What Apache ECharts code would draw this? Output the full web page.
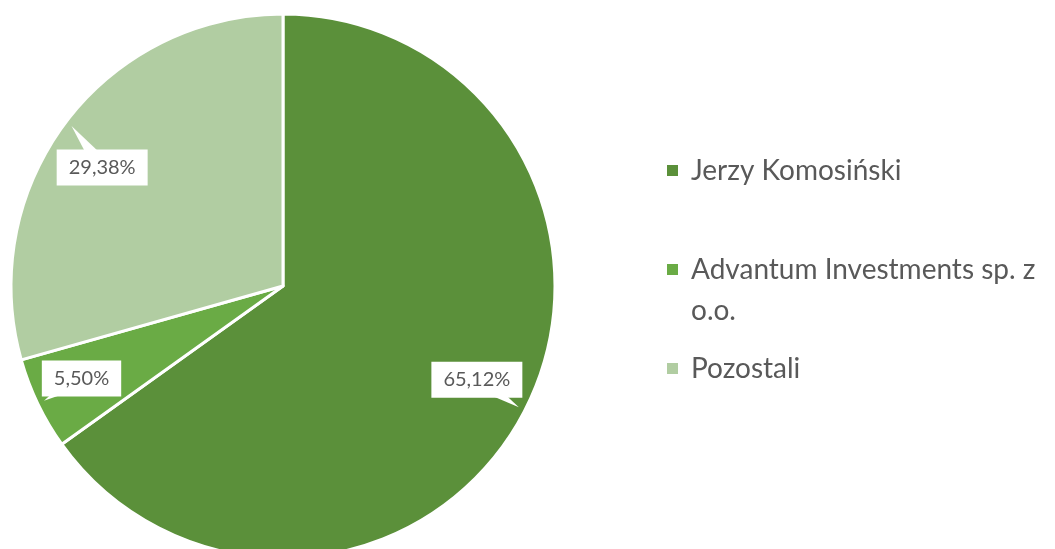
<!DOCTYPE html>
<html>
<head>
<meta charset="utf-8">
<script src="https://cdn.jsdelivr.net/npm/echarts@6/dist/echarts.min.js"></script>
<style>
  html, body { margin: 0; padding: 0; background: #ffffff; }
  #chart { width: 1055px; height: 549px; }
</style>
</head>
<body>
<div id="chart"></div>
<script>
// ---- data ----
const categories = ['Jerzy Komosiński', 'Advantum Investments sp. z o.o.', 'Pozostali'];
const values = [65.12, 5.50, 29.38];

// ---- styles ----
const sliceColors = ['#5b903a', '#6aab45', '#b1cda2'];
const labelOffsets = [[0, -6], [-5, -2], [-7, 13]];
const textColor = '#595959';
const FONT = 'Lato';
const CENTER = [283, 286];
const R = 272;
const LABEL_R0 = 158;

const chart = echarts.init(document.getElementById('chart'), null, { renderer: 'canvas' });

const pieData = categories.map((name, i) => ({
  name: name,
  value: values[i],
  itemStyle: { color: sliceColors[i] }
}));

const total = values.reduce((a, b) => a + b, 0);

function fmt(v) {
  return v.toFixed(2).replace('.', ',') + '%';
}

const option = {
  backgroundColor: '#ffffff',
  animation: false,
  legend: {
    orient: 'vertical',
    left: 660,
    top: 145,
    icon: 'rect',
    itemWidth: 13,
    itemHeight: 13,
    itemGap: 17,
    selectedMode: false,
    data: categories.map((name, i) => ({ name: name, itemStyle: { color: sliceColors[i] } })),
    formatter: function (name) {
      if (name === 'Advantum Investments sp. z o.o.') {
        return '\nAdvantum Investments sp. z\no.o.';
      }
      return name;
    },
    textStyle: {
      fontFamily: FONT,
      fontSize: 28,
      lineHeight: 41,
      color: textColor,
      padding: [0, 0, 0, 7]
    }
  },
  series: [
    {
      type: 'pie',
      z: 2,
      center: CENTER,
      radius: [0, R],
      startAngle: 90,
      clockwise: true,
      silent: true,
      label: { show: false },
      labelLine: { show: false },
      itemStyle: { borderColor: '#ffffff', borderWidth: 3 },
      data: pieData
    },
    {
      type: 'custom',
      z: 3,
      coordinateSystem: 'none',
      silent: true,
      data: values,
      renderItem: function (params, api) {
        const i = params.dataIndex;
        let before = 0;
        for (let k = 0; k < i; k++) before += values[k];
        const mid = (before + values[i] / 2) / total * Math.PI * 2; // clockwise from top
        const dx = Math.sin(mid), dy = -Math.cos(mid);
        const px = -dy, py = dx;
        const tipR = R * 0.975, baseR = R * 0.8, half = 9;
        const off = labelOffsets[i];
        const tip = [CENTER[0] + dx * tipR, CENTER[1] + dy * tipR];
        const bc = [CENTER[0] + dx * baseR + off[0], CENTER[1] + dy * baseR + off[1]];
        const b1 = [bc[0] + px * half, bc[1] + py * half];
        const b2 = [bc[0] - px * half, bc[1] - py * half];
        return {
          type: 'polygon',
          shape: { points: [tip, b1, b2] },
          style: { fill: '#ffffff' }
        };
      }
    },
    {
      type: 'pie',
      z: 4,
      center: CENTER,
      radius: [LABEL_R0, R],
      startAngle: 90,
      clockwise: true,
      silent: true,
      legendHoverLink: false,
      itemStyle: { color: 'rgba(0,0,0,0)', borderWidth: 0 },
      emphasis: { disabled: true },
      label: {
        show: true,
        position: 'inside',
        formatter: function (p) { return fmt(p.value); },
        fontFamily: FONT,
        fontSize: 20,
        color: textColor,
        backgroundColor: '#ffffff',
        padding: [9, 12, 7, 12]
      },
      labelLayout: function (params) {
        const off = labelOffsets[params.dataIndex];
        return { dx: off[0], dy: off[1] };
      },
      labelLine: { show: false },
      data: categories.map((name, i) => ({ name: name, value: values[i] }))
    }
  ]
};

chart.setOption(option);
</script>
</body>
</html>
